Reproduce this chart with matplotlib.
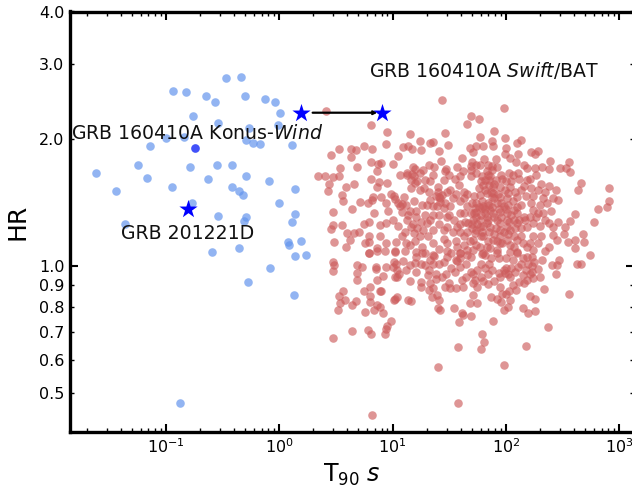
import numpy as np
import matplotlib
matplotlib.use('Agg')
import matplotlib.pyplot as plt
from matplotlib.ticker import FixedLocator, FormatStrFormatter

# values as (log10 T90, log10 HR)
short_grbs = [
    (-.47,.445),(-.34,.447),(-.94,.414),(-.82,.412),(-.65,.403),(-.57,.389),(-.30,.402),(-.13,.396),
    (-.04,.389),(.01,.363),(-.76,.355),(-.54,.338),(-.27,.327),(-.01,.334),(-1.00,.304),(-.84,.306),
    (-1.14,.285),(-.29,.299),(-.23,.292),(-.17,.289),(.11,.286),(-1.25,.239),(-.79,.235),(-.55,.239),
    (-.42,.238),(-1.62,.219),(-1.17,.209),(-.63,.205),(-.29,.213),(-.09,.200),(-.95,.188),(-1.44,.178),
    (-.42,.186),(-.36,.177),(-.32,.169),(.14,.183),(-.77,.149),(.00,.150),(-.54,.119),(-.29,.117),
    (-.31,.107),(.14,.123),(.11,.104),(-1.36,.100),(.08,.058),(.09,.050),(.19,.059),(-.36,.042),
    (-.59,.033),(.14,.024),(.24,.026),(-.08,-.005),(-.28,-.037),(.13,-.069),(-.88,-.325),
]

long_grbs = [
    (.41,.366),(1.44,.393),(1.98,.373),(1.69,.355),(1.76,.347),(1.66,.337),(.81,.333),(.95,.318),
    (1.15,.312),(1.46,.314),(1.90,.319),(1.77,.305),(1.99,.303),(1.88,.295),(2.13,.298),(2.10,.290),
    (1.24,.296),(1.33,.291),(1.36,.294),(1.49,.287),(.94,.288),(1.89,.284),(.75,.284),(.82,.278),
    (1.09,.282),(1.14,.283),(1.17,.278),(1.25,.274),(1.41,.273),(1.68,.280),(1.74,.284),(1.80,.284),
    (2.00,.279),(.53,.276),(.46,.262),(.63,.277),(.68,.274),(.63,.257),(1.05,.261),(1.71,.269),
    (1.99,.264),(2.11,.265),(2.22,.269),(2.28,.272),(2.26,.265),(.81,.246),(.90,.244),(.87,.242),
    (1.00,.241),(1.43,.248),(1.61,.256),(2.04,.256),(2.39,.249),(2.56,.245),(.69,.235),(.54,.231),
    (.86,.225),(1.18,.234),(1.32,.239),(1.37,.234),(1.27,.228),(1.47,.229),(1.57,.235),(1.69,.237),
    (1.81,.254),(1.91,.254),(1.88,.237),(1.77,.239),(2.09,.245),(2.16,.239),(2.19,.233),(2.26,.232),
    (2.32,.235),(2.38,.230),(2.48,.231),(2.53,.231),(2.57,.222),(.34,.213),(.40,.212),(.47,.210),
    (.53,.213),(1.07,.216),(1.17,.217),(.81,.205),(.88,.198),(.95,.197),(.86,.186),(.44,.194),
    (.43,.178),(.59,.186),(.66,.194),(.99,.171),(1.01,.165),(1.02,.159),(.90,.164),(.83,.163),
    (1.10,.163),(.55,.167),(.56,.155),(.71,.151),(.78,.148),(.82,.156),(.64,.135),(.47,.128),
    (.84,.126),(.94,.150),(.96,.131),(1.19,.154),(2.66,.196),(2.64,.181),(2.91,.185),(2.91,.155),
    (2.89,.139),(2.81,.135),(2.78,.103),(2.44,.179),(2.38,.190),(2.31,.193),(2.27,.215),(2.03,.220),
    (2.11,.220),(2.21,.207),(2.35,.174),(2.24,.166),(.55,.097),(.47,.097),(.46,.088),(.75,.100),
    (.79,.105),(.89,.096),(.94,.101),(1.00,.108),(1.05,.095),(1.07,.142),(1.08,.146),(1.08,.129),
    (1.21,.130),(1.30,.145),(.60,.077),(.66,.077),(.70,.081),(.62,.061),(.48,.057),(.59,.044),
    (.79,.070),(.76,.055),(.79,.056),(.79,.032),(.86,.042),(.89,.070),(.94,.054),(1.03,.058),
    (1.02,.035),(1.12,.055),(1.21,.034),(2.61,.122),(2.57,.107),(2.52,.092),(2.68,.075),(2.61,.061),
    (2.55,.056),(2.69,.056),(2.61,.043),(2.74,.026),(2.47,.014),(2.32,.014),(2.51,.076),(2.42,.073),
    (2.27,.117),(2.46,.105),
    # dense part of the cloud
    (1.13,.216),(1.19,.212),(1.20,.196),(1.16,.204),(1.29,.204),(1.33,.200),(1.32,.176),(1.40,.188),
    (1.45,.204),(1.46,.224),(1.44,.168),(1.42,.152),(1.51,.180),(1.63,.176),(1.59,.192),(1.60,.212),
    (1.69,.227),(1.69,.212),(1.74,.220),(1.83,.224),(1.88,.227),(1.85,.204),(1.91,.204),(1.95,.188),
    (2.04,.188),(2.13,.180),(2.19,.204),(2.10,.164),(2.01,.160),(1.89,.172),(1.77,.168),(1.74,.148),
    (1.80,.141),(1.86,.133),(1.92,.148),(1.98,.141),(2.07,.133),(2.13,.145),(2.24,.133),(2.36,.148),
    (2.42,.160),(2.46,.156),(2.33,.125),(2.38,.101),(2.24,.101),(2.19,.093),(2.10,.101),(2.01,.109),
    (1.92,.109),(1.83,.117),(1.74,.117),(1.77,.093),(1.86,.093),(1.95,.085),(2.04,.085),(2.13,.070),
    (2.24,.070),(2.01,.062),(1.89,.062),(1.80,.070),(1.71,.062),(1.63,.070),(1.57,.093),(1.48,.093),
    (1.41,.121),(1.39,.141),(1.51,.141),(1.60,.125),(1.30,.101),(1.36,.085),(1.24,.070),(1.16,.093),
    (1.13,.109),(1.21,.117),(1.19,.077),(1.36,.054),(1.48,.054),(1.57,.046),(1.66,.038),(1.48,.022),
    (1.60,.030),(1.69,.022),(1.26,.046),(1.36,.026),(1.92,.038),(2.04,.034),(2.10,.034),(2.19,.046),
    (2.31,.070),(2.38,.046),(2.45,.062),(2.42,.093),(1.82,.026),(1.77,.046),(1.95,.054),
    # core
    (1.74,.129),(1.79,.137),(1.82,.125),(1.85,.145),(1.71,.109),(1.77,.109),(1.83,.101),(1.89,.125),
    (1.95,.129),(2.01,.125),(1.88,.164),(1.83,.172),(1.95,.164),(2.02,.172),(1.89,.188),(1.80,.192),
    (1.85,.192),(1.79,.212),(1.82,.204),(1.86,.212),(1.73,.137),(1.69,.125),(1.66,.141),(1.63,.125),
    (1.67,.101),(1.70,.089),(2.10,.125),(2.16,.117),(2.21,.117),(2.07,.109),(2.13,.089),(2.17,.109),
    (1.95,.101),(2.01,.093),(1.91,.089),(1.79,.081),(1.73,.077),(1.66,.081),(1.60,.081),(1.54,.109),
    (1.48,.117),(1.45,.137),(1.36,.141),(1.33,.156),(1.41,.164),(1.95,.070),(1.86,.042),(1.63,.050),
    (1.60,.018),(1.71,.038),(1.83,.046),(2.10,.062),(2.21,.054),(2.07,.046),(2.24,.038),
    (1.78,.20),(1.84,.215),(1.90,.195),(1.97,.205),(1.76,.185),(1.82,.18),(1.87,.175),(1.93,.17),
    (1.99,.18),(2.05,.20),(2.08,.175),(1.72,.165),(1.79,.155),(1.84,.15),(1.90,.16),(1.96,.15),
    (2.02,.145),(2.06,.155),(1.70,.15),(1.76,.14),(1.82,.135),(1.88,.14),(1.94,.135),(2.00,.135),
    (2.05,.12),(2.10,.14),(1.72,.125),(1.78,.12),(1.84,.11),(1.90,.115),(1.96,.115),(2.03,.105),
    (2.08,.09),(2.12,.11),(1.70,.10),(1.75,.10),(1.80,.095),(1.85,.08),(1.90,.075),(1.98,.08),
    (2.02,.075),(2.07,.07),(1.74,.085),(1.78,.07),(1.84,.06),(1.92,.06),(1.97,.055),(2.04,.05),
    (1.68,.06),(1.74,.05),(1.80,.03),(1.87,.02),(1.94,.02),(2.00,.02),(2.06,.015),(2.15,.02),
    # left clump
    (1.40,.175),(1.42,.16),(1.46,.15),(1.48,.175),(1.38,.165),(1.53,.16),(1.56,.17),(1.60,.155),
    (1.63,.16),(1.66,.17),(1.36,.12),(1.33,.11),(1.29,.12),(1.25,.105),(1.27,.085),(1.31,.07),
    (1.41,.10),(1.45,.085),(1.50,.12),(1.53,.08),(1.56,.06),(1.60,.10),(1.64,.105),(1.45,.065),
    (1.41,.04),(1.52,.03),(1.56,.015),(1.22,.09),(1.18,.10),(1.14,.12),(1.11,.08),(1.08,.07),
    (1.15,.05),(1.20,.06),(1.29,.03),(1.33,.015),(1.41,.005),(1.52,-.005),
    # upper edge of the clump
    (1.50,.215),(1.55,.205),(1.62,.225),(1.70,.245),(1.74,.24),(1.84,.24),(1.92,.235),(1.96,.215),
    (2.00,.20),(2.06,.215),(2.12,.205),(2.16,.19),(2.22,.185),(2.28,.18),(2.33,.16),(2.30,.145),
    (2.40,.13),(2.28,.125),(2.22,.15),(2.18,.165),(2.35,.11),(2.30,.095),(2.28,.055),(2.35,.035),
    (2.15,.055),(1.24,.22),(1.20,.23),(1.13,.22),(1.24,.18),(1.28,.185),(1.36,.215),(1.22,.20),
    (1.16,.185),(1.05,.15),(1.12,.145),(1.15,.13),(1.26,.145),
    # lower half
    (.79,.032),(.86,.036),(.93,.036),(1.02,.034),(1.11,.036),(1.21,.021),(1.26,.032),(1.37,.024),
    (1.48,.036),(1.60,.030),(1.66,.026),(1.79,.028),(1.92,.032),(2.10,.032),(2.19,.022),(2.23,.021),
    (2.41,.003),(2.45,.003),(2.63,.006),(2.66,.004),(2.28,-.006),(2.44,-.019),(.47,.010),(.48,.003),
    (.47,-.011),(.69,.002),(.73,-.003),(.85,-.003),(.85,-.007),(.94,-.002),(1.01,.009),(1.00,-.002),
    (1.04,-.009),(1.09,.011),(1.15,.002),(1.20,.008),(1.25,.005),(1.29,.002),(1.36,.006),(1.45,.010),
    (1.57,.012),(1.60,-.003),(1.65,.006),(1.69,-.013),(1.71,-.019),(1.78,.005),(1.85,.005),(2.11,-.003),
    (2.23,.000),(.69,-.016),(.69,-.032),(.86,-.033),(.92,-.024),(1.02,-.027),(1.04,-.025),(1.21,-.015),
    (1.31,-.021),(1.38,-.019),(1.44,-.027),(1.61,-.032),(1.78,-.025),(1.84,-.019),(1.94,-.016),(1.99,-.017),
    (2.02,-.019),(1.98,-.009),(2.04,-.025),(2.15,-.021),(2.21,-.019),(2.19,-.033),(2.24,-.029),(2.12,-.037),
    (1.90,-.035),(1.84,-.043),(1.71,-.039),(1.73,-.033),(1.25,-.037),(1.25,-.049),(1.36,-.051),(1.50,-.039),
    (1.51,-.053),(1.56,-.053),(1.32,-.057),(1.35,-.073),(1.39,-.069),(1.41,-.081),(1.40,-.100),(1.42,-.105),
    (.80,-.049),(.75,-.060),(.89,-.060),(.90,-.058),(.56,-.060),(.53,-.070),(.58,-.081),(.54,-.088),
    (.68,-.083),(.64,-.092),(.52,-.105),(.80,-.071),(.80,-.085),(.86,-.091),(.89,-.098),(.84,-.103),
    (.92,-.110),(.76,-.109),(1.04,-.073),(1.02,-.077),(1.01,-.081),(1.14,-.081),(1.16,-.083),(1.54,-.100),
    (1.71,-.068),(1.87,-.074),(1.92,-.079),(1.96,-.086),(2.00,-.065),(2.03,-.060),(2.09,-.056),(2.34,-.055),
    (2.21,-.072),(2.26,-.079),(2.04,-.081),(2.02,-.098),(1.98,-.104),(2.15,-.100),(2.20,-.112),(2.26,-.107),
    (2.56,-.066),(1.68,-.087),(1.75,-.087),(1.61,-.112),(1.62,-.116),(1.59,-.132),(1.69,-.119),(1.89,-.130),
    (.99,-.129),(.95,-.143),(.94,-.150),(.93,-.160),(.78,-.152),(.81,-.160),(.64,-.153),(.47,-.170),
    (2.37,-.144),(1.79,-.160),(1.81,-.179),(1.58,-.192),(1.78,-.196),(2.18,-.188),(1.40,-.239),(1.98,-.235),
    (1.58,-.324),(.82,-.353),
    (1.32,-.01),(1.38,-.03),(1.47,-.02),(1.55,-.015),(1.65,-.025),(1.75,-.01),(1.82,-.005),(1.88,-.01),
    (1.95,-.025),(2.00,-.005),(2.05,-.005),(2.08,-.015),(2.13,.005),(2.18,-.01),(2.25,.01),(2.20,.005),
    (2.30,-.025),(2.06,-.045),(2.16,-.04),(2.23,-.015),(1.03,.005),(1.06,-.02),(1.15,-.035),(1.12,-.01),
    (1.33,-.04),(1.46,-.05),(1.62,-.05),(1.75,-.05),(1.80,-.035),(1.95,-.05),(1.97,-.065),
]

# the darker point under the Konus-Wind label
dark_point_t90 = [0.182]
dark_point_hr = [1.897]

star_t90 = [1.56, 8.1, 0.157]
star_hr = [2.305, 2.305, 1.365]

y_major = [1.0]
y_minor = [0.5, 0.6, 0.7, 0.8, 0.9, 2.0, 3.0, 4.0]

W, H = 632, 487
fig = plt.figure(figsize=(W / 100, H / 100), dpi=100)
# right edge of the frame falls just outside the picture
ax = fig.add_axes([70 / W, 1 - 432 / H, 564 / W, 420.5 / H])
ax.set_xscale('log')
ax.set_yscale('log')

short_arr = 10 ** np.array(short_grbs)
long_arr = 10 ** np.array(long_grbs)
ax.scatter(long_arr[:, 0], long_arr[:, 1], s=38, color='indianred', alpha=0.65, linewidths=0)
ax.scatter(short_arr[:, 0], short_arr[:, 1], s=38, color='cornflowerblue', alpha=0.7, linewidths=0)
ax.scatter(dark_point_t90, dark_point_hr, s=38, color='cornflowerblue', alpha=0.7, linewidths=0)
ax.scatter(dark_point_t90, dark_point_hr, s=38, color='blue', alpha=0.55, linewidths=0)
ax.scatter(star_t90, star_hr, s=190, marker='*', color='blue', linewidths=0, zorder=4)

ax.annotate('', xy=(7.35, 2.305), xytext=(1.97, 2.305),
            arrowprops=dict(arrowstyle='->', lw=1.6, color='black', mutation_scale=5,
                            shrinkA=0, shrinkB=0))

ax.text(0.0146, 2.0, r'GRB 160410A Konus-$\mathit{Wind}$', fontsize=13.6, color='#111111')
ax.text(6.15, 2.80, r'GRB 160410A $\mathit{Swift}$/BAT', fontsize=13.6, color='#111111')
ax.text(0.0403, 1.158, 'GRB 201221D', fontsize=13.6, color='#111111')

ax.set_xlim(10 ** -1.848, 10 ** 3.132)
ax.set_ylim(0.405, 4.0)

ax.yaxis.set_major_locator(FixedLocator(y_major))
ax.yaxis.set_minor_locator(FixedLocator(y_minor))
ax.yaxis.set_major_formatter(FormatStrFormatter('%.1f'))
ax.yaxis.set_minor_formatter(FormatStrFormatter('%.1f'))

ax.tick_params(which='both', direction='in', top=True, right=True, labelsize=11.5, pad=4)
ax.tick_params(which='major', length=6, width=1.5)
ax.tick_params(which='minor', length=3, width=1)

for spine in ax.spines.values():
    spine.set_linewidth(2.4)

ax.set_xlabel(r'T$_{90}$ $s$', fontsize=17, labelpad=4)
ax.set_ylabel('HR', fontsize=18, labelpad=7)

fig.savefig('out.png', dpi=100)
